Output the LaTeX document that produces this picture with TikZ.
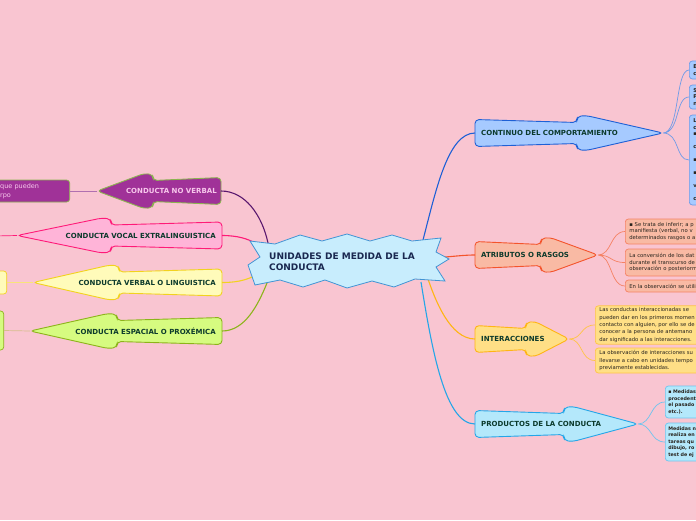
\documentclass[tikz,border=0pt]{standalone}
\usepackage{fontspec}
\setmainfont{DejaVu Sans}

\definecolor{bgpink}{RGB}{249,197,209}
\definecolor{tagtext}{RGB}{12,58,44}
\definecolor{leaftext}{RGB}{40,36,30}
\definecolor{hubfill}{RGB}{200,237,253}
\definecolor{hubline}{RGB}{66,148,212}
\definecolor{hubtext}{RGB}{26,40,80}
\definecolor{contfill}{RGB}{166,202,255}
\definecolor{contline}{RGB}{30,96,214}
\definecolor{contleaf}{RGB}{110,155,232}
\definecolor{atrifill}{RGB}{249,186,164}
\definecolor{atriline}{RGB}{244,84,44}
\definecolor{atrileaf}{RGB}{245,130,100}
\definecolor{interfill}{RGB}{255,223,134}
\definecolor{interline}{RGB}{255,181,20}
\definecolor{interleaf}{RGB}{255,196,70}
\definecolor{prodfill}{RGB}{180,232,251}
\definecolor{prodline}{RGB}{36,166,232}
\definecolor{prodleaf}{RGB}{110,196,238}
\definecolor{noverfill}{RGB}{160,50,152}
\definecolor{noverline}{RGB}{140,180,80}
\definecolor{noverlink}{RGB}{90,24,110}
\definecolor{novertwig}{RGB}{176,112,176}
\definecolor{novertext}{RGB}{248,200,236}
\definecolor{vocalfill}{RGB}{255,180,216}
\definecolor{vocalline}{RGB}{255,26,120}
\definecolor{verbfill}{RGB}{255,251,186}
\definecolor{verbline}{RGB}{242,210,30}
\definecolor{verbtwig}{RGB}{248,228,122}
\definecolor{espfill}{RGB}{214,251,128}
\definecolor{espline}{RGB}{140,180,26}
\definecolor{esptwig}{RGB}{214,190,140}

\tikzset{
  branch/.style={line width=0.9pt,rounded corners=4pt},
  tag/.style={font=\fontsize{7}{8}\selectfont\bfseries,text=tagtext,inner sep=0pt},
  hubtag/.style={font=\fontsize{9}{11.5}\selectfont\bfseries,text=hubtext,align=left,inner sep=0pt},
  leaf/.style={draw,rounded corners=3pt,line width=0.7pt,inner xsep=4pt,inner ysep=2pt,
    align=left,text=leaftext,font=\fontsize{5.3}{6.6}\selectfont},
  link/.style={line width=1.1pt},
  twig/.style={line width=0.7pt}
}

% arrow shaped branch: name, tail x, shoulder x, tip x, centre y, direction, style
\newcommand{\limb}[7]{%
  \draw[#7] (#2,#5) -- (#2,{#5-13.5}) -- (#3,{#5-10.5}) -- (#3,{#5-16.5})
    -- ({#3+9*#6},{#5-17.5}) -- (#4,#5) -- ({#3+9*#6},{#5+17.5})
    -- (#3,{#5+16.5}) -- (#3,{#5+10.5}) -- (#2,{#5+13.5}) -- cycle;
  \coordinate (#1-in) at (#2,#5);
  \coordinate (#1-tip) at (#4,#5);
}

\begin{document}
\begin{tikzpicture}[x=1pt,y=-1pt]

  \useasboundingbox (0,0) rectangle (696,520);
  \fill[bgpink] (0,0) rectangle (696,520);

  % points where the links leave the centre
  \coordinate (hub-cont)  at (423,240);
  \coordinate (hub-atri)  at (445,257);
  \coordinate (hub-inter) at (427,276);
  \coordinate (hub-prod)  at (421,282);
  \coordinate (hub-nover) at (268,243);
  \coordinate (hub-vocal) at (255,243);
  \coordinate (hub-verb)  at (263,270);
  \coordinate (hub-esp)   at (267,283);

  % leaves
  \node [leaf,fill=contfill,draw=contleaf,anchor=west,text width=40,minimum height=18,font=\fontsize{5.3}{7}\selectfont\bfseries] (cont-a) at (689,70) {E\\c};
  \node [leaf,fill=contfill,draw=contleaf,anchor=west,text width=40,minimum height=24,font=\fontsize{5.3}{6.6}\selectfont\bfseries] (cont-b) at (689,97) {S\\P\\n};
  \node [leaf,fill=contfill,draw=contleaf,anchor=west,text width=40,minimum height=90,font=\fontsize{5.3}{6.5}\selectfont\bfseries] (cont-c) at (689,160) {L\\c\\▪\\~\\c\\~\\▪\\~\\▪\\~\\v\\~\\c};

  \node [leaf,fill=atrifill,draw=atrileaf,anchor=west,text width=90,minimum height=25] (atri-a) at (625,231.5) {▪ Se trata de inferir; a p\\manifiesta (verbal, no v\\determinados rasgos o a};
  \node [leaf,fill=atrifill,draw=atrileaf,anchor=west,text width=90,minimum height=27] (atri-b) at (625,262.5) {La conversión de los dat\\durante el transcurso de\\observación o posteriorm};
  \node [leaf,fill=atrifill,draw=atrileaf,anchor=west,text width=90,minimum height=12] (atri-c) at (625,286) {En la observación se utili};

  \node [leaf,fill=interfill,draw=interleaf,anchor=west,text width=115,minimum height=38,font=\fontsize{5.3}{7.3}\selectfont] (inter-a) at (595,325) {Las conductas interaccionadas se\\pueden dar en los primeros momen\\contacto con alguien, por ello se de\\conocer a la persona de antemano\\dar significado a las interacciones.};
  \node [leaf,fill=interfill,draw=interleaf,anchor=west,text width=115,minimum height=25,font=\fontsize{5.3}{7.3}\selectfont] (inter-b) at (595,360.5) {La observación de interacciones su\\llevarse a cabo en unidades tempo\\previamente establecidas.};

  \node [leaf,fill=prodfill,draw=prodleaf,anchor=west,text width=50,minimum height=32,inner xsep=3pt,font=\fontsize{4.8}{6.4}\selectfont\bfseries] (prod-a) at (665,402) {▪ Medidas\\procedent\\el pasado\\etc.).};
  \node [leaf,fill=prodfill,draw=prodleaf,anchor=west,text width=50,minimum height=38,inner xsep=3pt,font=\fontsize{4.8}{6.5}\selectfont\bfseries] (prod-b) at (665,442) {Medidas n\\realiza en\\tareas qu\\dibujo, ro\\test de ej};

  \node [leaf,fill=noverfill,draw=noverline,text=novertext,anchor=east,text width=66,minimum height=22,inner xsep=3.5pt,font=\fontsize{6.5}{9}\selectfont] (nover-a) at (70,191) {que pueden\\rpo};
  \coordinate (vocal-a) at (-5,236);
  \node [leaf,fill=verbfill,draw=verbline,anchor=east,minimum width=30,minimum height=23] (verb-a) at (7,282.5) {};
  \node [leaf,fill=espfill,draw=espline,anchor=east,minimum width=30,minimum height=39] (esp-a) at (4,330.5) {};

  % branch shapes
  \limb{cont}{475}{577}{663}{133}{1}{branch,fill=contfill,draw=contline}
  \limb{atri}{475}{541}{598}{255}{1}{branch,fill=atrifill,draw=atriline}
  \limb{inter}{475}{526}{569}{339}{1}{branch,fill=interfill,draw=interline}
  \limb{prod}{475}{564}{638}{424}{1}{branch,fill=prodfill,draw=prodline}
  \limb{nover}{221}{153}{97}{191}{-1}{branch,fill=noverfill,draw=noverline}
  \limb{vocal}{222}{111}{17}{235.5}{-1}{branch,fill=vocalfill,draw=vocalline}
  \limb{verb}{222}{119}{33}{282.5}{-1}{branch,fill=verbfill,draw=verbline}
  \limb{esp}{222}{117}{30}{331}{-1}{branch,fill=espfill,draw=espline}

  % links from the centre
  \draw [link,contline]  (hub-cont)  .. controls (436,190) and (448,133) .. (cont-in);
  \draw [link,atriline]  (hub-atri)  .. controls (458,256) and (465,255) .. (atri-in);
  \draw [link,interline] (hub-inter) .. controls (435,300) and (450,339) .. (inter-in);
  \draw [link,prodline]  (hub-prod)  .. controls (432,350) and (445,424) .. (prod-in);
  \draw [link,noverlink] (hub-nover) .. controls (262,215) and (245,191) .. (nover-in);
  \draw [link,vocalline] (hub-vocal) .. controls (248,239) and (238,235.5) .. (vocal-in);
  \draw [link,verbline]  (hub-verb)  .. controls (252,279) and (240,282.5) .. (verb-in);
  \draw [link,espline]   (hub-esp)   .. controls (258,305) and (245,331) .. (esp-in);

  % twigs to the leaves
  \path [draw,twig,contleaf]
    (cont-tip) .. controls (680,133) and (675,70) .. (cont-a.west)
    (cont-tip) .. controls (680,133) and (675,97) .. (cont-b.west)
    (cont-tip) .. controls (680,133) and (675,160) .. (cont-c.west);
  \path [draw,twig,atrileaf]
    (atri-tip) .. controls (612,255) and (610,231.5) .. (atri-a.west)
    (atri-tip) .. controls (612,255) and (610,262.5) .. (atri-b.west)
    (atri-tip) .. controls (612,255) and (610,286) .. (atri-c.west);
  \path [draw,twig,interleaf]
    (inter-tip) .. controls (583,339) and (580,325) .. (inter-a.west)
    (inter-tip) .. controls (583,339) and (580,360.5) .. (inter-b.west);
  \path [draw,twig,prodleaf]
    (prod-tip) .. controls (652,424) and (650,402) .. (prod-a.west)
    (prod-tip) .. controls (652,424) and (650,442) .. (prod-b.west);
  \draw [twig,novertwig] (nover-tip) -- (nover-a.east);
  \draw [twig,vocalline] (vocal-tip) -- (vocal-a);
  \draw [twig,verbtwig]  (verb-tip) -- (verb-a.east);
  \draw [twig,esptwig]   (esp-tip) -- (esp-a.east);

  % branch labels
  \node [tag,anchor=west] (cont)  at (481,133) {CONTINUO DEL COMPORTAMIENTO};
  \node [tag,anchor=west] (atri)  at (481,255) {ATRIBUTOS O RASGOS};
  \node [tag,anchor=west] (inter) at (481,339) {INTERACCIONES};
  \node [tag,anchor=west] (prod)  at (481,424) {PRODUCTOS DE LA CONDUCTA};
  \node [tag,anchor=east,text=novertext] (nover) at (217,191) {CONDUCTA NO VERBAL};
  \node [tag,anchor=east] (vocal) at (216,235.5) {CONDUCTA VOCAL EXTRALINGUISTICA};
  \node [tag,anchor=east] (verb)  at (216,282.5) {CONDUCTA VERBAL O LINGUISTICA};
  \node [tag,anchor=east] (esp)   at (216,331) {CONDUCTA ESPACIAL O PROXÉMICA};

  % centre
  \draw [fill=hubfill,draw=hubline,line width=0.8pt]
    (250,241) -- (275,244) -- (300,235) -- (322,241) -- (347,234) -- (370,241)
    -- (392,235) -- (412,241) -- (441,238) -- (436,252) -- (449,259) -- (436,267)
    -- (445,281) -- (415,279) -- (394,287) -- (372,281) -- (347,288) -- (325,280)
    -- (303,287) -- (280,280) -- (255,285) -- (248,265) -- (260,257) -- cycle;
  \node [hubtag,anchor=west] (hub) at (269,261.5) {UNIDADES DE MEDIDA DE LA\\CONDUCTA};

\end{tikzpicture}
\end{document}
